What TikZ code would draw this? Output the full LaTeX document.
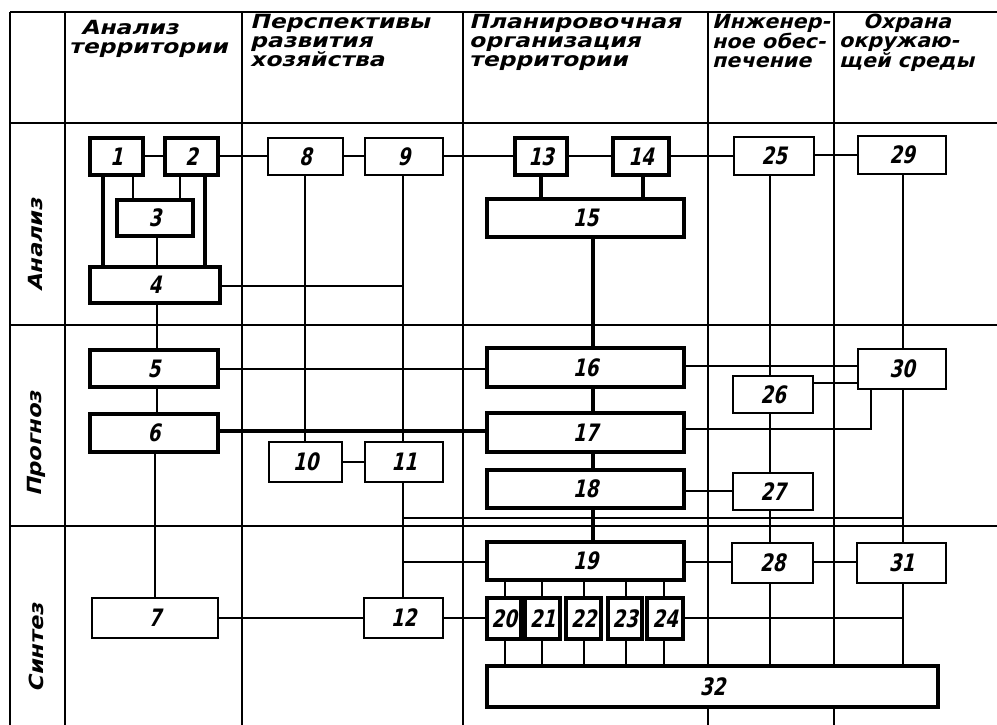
\documentclass[tikz,border=0pt]{standalone}
\usepackage{fontspec}
\setmainfont{DejaVu Sans}
\newfontfamily\txtfam{DejaVu Sans}[FakeSlant=0.25,FakeStretch=1.06]
\newfontfamily\widefam{DejaVu Sans}[FakeSlant=0.25,FakeStretch=1.2]
\newfontfamily\rowfam{DejaVu Sans}[FakeSlant=0.25,FakeStretch=1.15]
\newfontfamily\digfam{DejaVu Sans}[FakeSlant=0.22,FakeStretch=0.76]
\newcommand\hdf{\txtfam\bfseries\fontsize{19.5pt}{19pt}\selectfont}
\newcommand\hdw{\widefam\bfseries\fontsize{19.5pt}{19pt}\selectfont}
\newcommand\rwf{\rowfam\bfseries\fontsize{19.5pt}{18pt}\selectfont}
\newcommand\digf{\digfam\bfseries\fontsize{24pt}{24pt}\selectfont}
\newcommand\mkbox[7]{\node[#7, minimum width={(#4-#2)*1pt}, minimum height={(#5-#3)*1pt}] (#1) at ({(#2+#4)/2},{(#3+#5)/2}) {#6};}
\newcommand\vcon[4][ln]{\coordinate (tmpx) at (#4,0); \draw[#1] (#2.south -| tmpx) -- (#3.north -| tmpx);}
\newcommand\hcon[4][ln]{\coordinate (tmpy) at (0,#4); \draw[#1] (#2.east |- tmpy) -- (#3.west |- tmpy);}
\tikzset{
  bx/.style={draw, fill=white, inner sep=0pt, font=\digf},
  thk/.style={bx, line width=3.6pt},
  thn/.style={bx, line width=2pt},
  mdb/.style={bx, line width=2.8pt},
  grd/.style={line width=1.9pt},
  ln/.style={line width=1.6pt},
  md/.style={line width=2.4pt},
  tl/.style={line width=3.4pt},
  hd/.style={font=\hdf, align=left, anchor=north west, inner sep=0pt},
  hdwide/.style={hd, font=\hdw},
  rl/.style={font=\rwf, rotate=90, inner sep=0pt},
}
\begin{document}
\begin{tikzpicture}[x=1pt,y=-1pt]
\useasboundingbox (0,0) rectangle (997,725);
\fill[white] (0,0) rectangle (997,725);
% grid
\draw[grd] (10,12) -- (997,12);
\draw[grd] (10,123) -- (997,123);
\draw[grd] (10,325) -- (997,325);
\draw[grd] (10,526) -- (997,526);
\foreach \gx in {10,65,242,463,708,834} \draw[grd] (\gx,12) -- (\gx,725);
% headers
\node[hdwide] (h1) at (69,20) {\hspace*{12pt}Анализ\\территории};
\node[hdwide] (h2) at (250,14) {Перспективы\\развития\\хозяйства};
\node[hdwide] (h3) at (469,14) {Планировочная\\организация\\территории};
\node[hd] (h4) at (712,14) {Инженер-\\ное обес-\\печение};
\node[hd] (h5) at (839,14) {\hspace*{24pt}Охрана\\окружаю-\\щей среды};
% row labels
\node[rl] (r1) at (36,245) {Анализ};
\node[rl] (r2) at (36,444) {Прогноз};
\node[rl] (r3) at (36,648) {Синтез};
% junction points
\coordinate (j4) at (403,286);
\coordinate (b1) at (403,518);
\coordinate (b2) at (903,518);
\coordinate (b3) at (403,562);
\coordinate (k30) at (871,429);
\coordinate (m24) at (903,618);
% boxes
\mkbox{n1}{90}{138}{143}{175}{1}{thk}
\mkbox{n2}{165}{138}{218}{175}{2}{thk}
\mkbox{n3}{117}{200}{193}{236}{3}{thk}
\mkbox{n4}{90}{267}{220}{303}{4}{thk}
\mkbox{n5}{90}{350}{218}{387}{5}{thk}
\mkbox{n6}{90}{414}{218}{452}{6}{thk}
\mkbox{n7}{92}{598}{218}{638}{7}{thn}
\mkbox{n8}{268}{138}{343}{175}{8}{thn}
\mkbox{n9}{365}{138}{443}{175}{9}{thn}
\mkbox{n10}{269}{442}{342}{482}{10}{thn}
\mkbox{n11}{365}{442}{443}{482}{11}{thn}
\mkbox{n12}{364}{598}{443}{638}{12}{mdb}
\mkbox{n13}{515}{138}{567}{175}{13}{thk}
\mkbox{n14}{613}{138}{669}{175}{14}{thk}
\mkbox{n15}{487}{199}{684}{237}{15}{thk}
\mkbox{n16}{487}{348}{684}{387}{16}{thk}
\mkbox{n17}{487}{413}{684}{452}{17}{thk}
\mkbox{n18}{487}{470}{684}{508}{18}{thk}
\mkbox{n19}{487}{542}{684}{580}{19}{thk}
\mkbox{n20}{487}{598}{521}{639}{20}{thk}
\mkbox{n21}{525}{598}{560}{639}{21}{thk}
\mkbox{n22}{566}{598}{601}{639}{22}{thk}
\mkbox{n23}{608}{598}{642}{639}{23}{thk}
\mkbox{n24}{647}{598}{683}{639}{24}{thk}
\mkbox{n25}{734}{137}{814}{175}{25}{thn}
\mkbox{n26}{733}{376}{813}{413}{26}{thn}
\mkbox{n27}{733}{473}{813}{510}{27}{thn}
\mkbox{n28}{732}{543}{813}{583}{28}{thn}
\mkbox{n29}{858}{136}{946}{174}{29}{thn}
\mkbox{n30}{858}{349}{946}{389}{30}{thn}
\mkbox{n31}{857}{543}{946}{583}{31}{thn}
\mkbox{n32}{487}{666}{938}{707}{32}{thk}
% connectors
\hcon{n1}{n2}{156}
\hcon{n2}{n8}{156}
\hcon{n8}{n9}{156}
\hcon{n9}{n13}{156}
\hcon{n13}{n14}{156}
\hcon{n14}{n25}{156}
\hcon{n25}{n29}{155}
\vcon{n1}{n3}{133}
\vcon{n2}{n3}{180}
\vcon[tl]{n1}{n4}{103}
\vcon[tl]{n2}{n4}{205}
\vcon[md]{n3}{n4}{157}
\vcon[md]{n4}{n5}{157}
\vcon[md]{n5}{n6}{157}
\vcon{n6}{n7}{155}
\vcon{n8}{n10}{305}
\vcon{n9}{n11}{403}
\draw[ln] (n4.east |- j4) -- (j4);
\hcon[md]{n5}{n16}{369}
\hcon[tl]{n6}{n17}{431}
\hcon{n10}{n11}{462}
\vcon{n11}{n12}{403}
\draw[ln] (b1) -- (b2);
\draw[ln] (b3) -- (n19.west |- b3);
\hcon{n7}{n12}{618}
\hcon{n12}{n20}{618}
\vcon[tl]{n13}{n15}{541}
\vcon[tl]{n14}{n15}{643}
\vcon[tl]{n15}{n16}{593}
\vcon[tl]{n16}{n17}{593}
\vcon[tl]{n17}{n18}{593}
\vcon[tl]{n18}{n19}{593}
\hcon{n16}{n30}{366}
\vcon{n25}{n26}{770}
\hcon{n26}{n30}{383}
\draw[ln] (n30.south -| k30) -- (k30) -- (n17.east |- k30);
\vcon{n29}{n30}{903}
\vcon{n30}{n31}{903}
\vcon{n26}{n27}{770}
\hcon[md]{n18}{n27}{491}
\vcon{n27}{n28}{770}
\hcon{n19}{n28}{562}
\hcon{n28}{n31}{562}
\vcon[md]{n19}{n20}{505}
\vcon[md]{n19}{n21}{542}
\vcon[md]{n19}{n22}{584}
\vcon[md]{n19}{n23}{626}
\vcon[md]{n19}{n24}{664}
\vcon[md]{n20}{n32}{505}
\vcon[md]{n21}{n32}{542}
\vcon[md]{n22}{n32}{584}
\vcon[md]{n23}{n32}{626}
\vcon[md]{n24}{n32}{664}
\draw[ln] (n24.east |- m24) -- (m24);
\vcon{n28}{n32}{770}
\vcon{n31}{n32}{903}
\end{tikzpicture}
\end{document}
